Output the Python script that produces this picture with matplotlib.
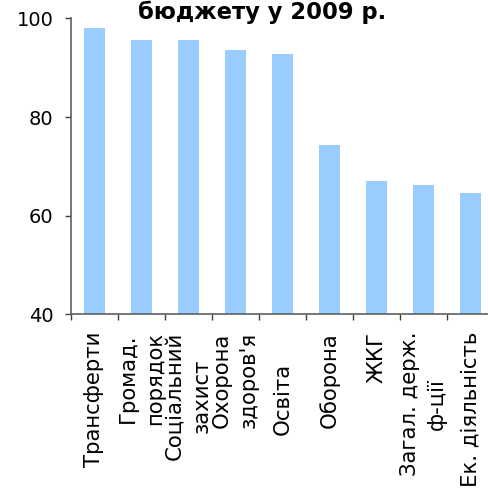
import matplotlib
matplotlib.use("Agg")
import matplotlib.pyplot as plt
import numpy as np

# categories and values (percent of plan executed)
categories = ["Трансферти", "Громад.\nпорядок", "Соціальний\nзахист", "Охорона\nздоров'я",
              "Освіта", "Оборона", "ЖКГ", "Загал. держ.\nф-ції", "Ек. діяльність"]
values = [98.1, 95.6, 95.6, 93.6, 92.8, 74.4, 67.1, 66.3, 64.7]
yticks = [40, 60, 80, 100]
title = "бюджету у 2009 р."

plt.rcParams['font.family'] = ['DejaVu Sans']

fig = plt.figure(figsize=(4.89, 4.92), dpi=100)
ax = fig.add_axes([0.1446, 0.3608, 0.8654, 0.6016])

x = np.arange(len(categories))
ax.bar(x, values, width=0.44, color='#99CCFF', bottom=0)

ax.set_ylim(40, 100)
ax.set_xlim(-0.5, len(categories) - 0.5)
ax.set_yticks(yticks)
ax.set_yticklabels([str(v) for v in yticks], fontsize=14)

ax.set_xticks(x)
ax.set_xticklabels(categories, rotation=90, fontsize=15.3, va='top', ha='center',
                   multialignment='center', linespacing=1.45)
ax.set_xticks(np.arange(len(categories)) - 0.5, minor=True)

ax.tick_params(axis='x', which='major', length=0, pad=12.6)
ax.tick_params(axis='x', which='minor', length=4.5, width=1, color='#404040', direction='out')
ax.tick_params(axis='y', length=4.5, width=1, color='#404040', direction='out', pad=8)

for tick, lab in zip(ax.xaxis.get_major_ticks(), categories):
    if lab == "Освіта":
        tick.set_pad(35)

for s in ['top', 'right']:
    ax.spines[s].set_visible(False)
for s in ['left', 'bottom']:
    ax.spines[s].set_color('#606060')
    ax.spines[s].set_linewidth(1.2)

fig.text(262 / 489, 1 - 1 / 492, title, fontsize=16.3, fontweight='bold',
         ha='center', va='top')

fig.savefig("out.png", dpi=100)
